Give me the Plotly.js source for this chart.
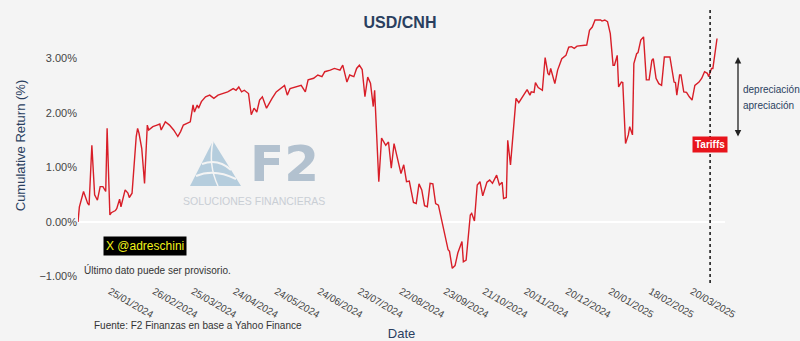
<!DOCTYPE html>
<html>
<head>
<meta charset="utf-8">
<script src="https://cdn.plot.ly/plotly-3.0.1.min.js"></script>
<style>html,body{margin:0;padding:0;background:#f4f4f4;}#chart{width:800px;height:341px;}</style>
</head>
<body>
<div id="chart"></div>
<script>
const dates = [
'2024-01-02','2024-01-03','2024-01-06','2024-01-09','2024-01-10','2024-01-12','2024-01-14','2024-01-16','2024-01-18','2024-01-20',
'2024-01-22','2024-01-23','2024-01-25','2024-01-26','2024-01-29','2024-01-30','2024-02-01','2024-02-02','2024-02-05','2024-02-07',
'2024-02-08','2024-02-10','2024-02-13','2024-02-14','2024-02-15','2024-02-17','2024-02-19','2024-02-21','2024-02-22','2024-02-25',
'2024-02-28','2024-03-01','2024-03-02','2024-03-05','2024-03-08','2024-03-11','2024-03-14','2024-03-16','2024-03-18','2024-03-22',
'2024-03-23','2024-03-25','2024-03-26','2024-03-28','2024-03-29','2024-03-31','2024-04-03','2024-04-06','2024-04-09','2024-04-12',
'2024-04-16','2024-04-19','2024-04-23','2024-04-25','2024-04-27','2024-04-29','2024-05-01','2024-05-04','2024-05-06','2024-05-08',
'2024-05-10','2024-05-12','2024-05-14','2024-05-17','2024-05-21','2024-05-24','2024-05-30','2024-06-01','2024-06-03','2024-06-08',
'2024-06-11','2024-06-14','2024-06-16','2024-06-20','2024-06-23','2024-06-26','2024-06-28','2024-07-02','2024-07-05','2024-07-09',
'2024-07-11','2024-07-14','2024-07-16','2024-07-19','2024-07-21','2024-07-23','2024-07-25','2024-07-27','2024-07-29','2024-07-31',
'2024-08-02','2024-08-03','2024-08-06','2024-08-08','2024-08-11','2024-08-13','2024-08-15','2024-08-17','2024-08-20','2024-08-22',
'2024-08-24','2024-08-26','2024-08-28','2024-08-31','2024-09-02','2024-09-04','2024-09-06','2024-09-08','2024-09-10','2024-09-12',
'2024-09-14','2024-09-16','2024-09-18','2024-09-20','2024-09-23','2024-09-25','2024-09-26','2024-09-28','2024-09-30','2024-10-02',
'2024-10-05','2024-10-06','2024-10-08','2024-10-11','2024-10-12','2024-10-14','2024-10-16','2024-10-18','2024-10-20','2024-10-23',
'2024-10-25','2024-10-27','2024-10-30','2024-11-01','2024-11-03','2024-11-04','2024-11-06','2024-11-07','2024-11-09','2024-11-11',
'2024-11-13','2024-11-15','2024-11-17','2024-11-19','2024-11-21','2024-11-23','2024-11-24','2024-11-26','2024-11-27','2024-11-29',
'2024-12-02','2024-12-04','2024-12-06','2024-12-07','2024-12-08','2024-12-11','2024-12-13','2024-12-16','2024-12-19','2024-12-21',
'2024-12-23','2024-12-25','2024-12-27','2025-01-03','2025-01-05','2025-01-07','2025-01-09','2025-01-13','2025-01-14','2025-01-16',
'2025-01-18','2025-01-20','2025-01-22','2025-01-23','2025-01-25','2025-01-26','2025-01-28','2025-01-29','2025-01-31','2025-02-02',
'2025-02-03','2025-02-05','2025-02-06','2025-02-08','2025-02-09','2025-02-11','2025-02-13','2025-02-15','2025-02-17','2025-02-19',
'2025-02-20','2025-02-22','2025-02-24','2025-02-26','2025-02-28','2025-03-04','2025-03-05','2025-03-07','2025-03-08','2025-03-09',
'2025-03-11','2025-03-12','2025-03-14','2025-03-16','2025-03-18','2025-03-20','2025-03-22','2025-03-25','2025-03-27','2025-03-29',
'2025-03-31','2025-04-01','2025-04-03','2025-04-04','2025-04-07'
];
const cumReturn = [
0.00,0.28,0.56,0.34,0.31,1.41,0.50,0.40,0.65,0.65,
0.56,1.72,0.13,0.17,0.21,0.25,0.42,0.28,0.59,0.53,
0.45,0.53,1.57,1.72,1.63,1.35,0.71,1.78,1.69,1.75,
1.78,1.80,1.69,1.84,1.78,1.69,1.57,1.66,1.78,1.82,
1.84,2.15,2.02,2.15,2.09,2.21,2.30,2.33,2.27,2.33,
2.36,2.39,2.45,2.42,2.48,2.39,2.42,2.36,1.97,2.09,
2.02,2.24,2.30,2.09,2.27,2.39,2.51,2.33,2.45,2.48,
2.51,2.39,2.61,2.64,2.70,2.67,2.76,2.79,2.82,2.79,
2.88,2.57,2.70,2.67,2.82,2.88,2.80,2.30,2.66,2.55,
2.12,2.42,0.74,1.54,1.41,1.47,0.99,1.44,1.08,0.89,
1.05,0.74,0.75,0.36,0.34,0.70,0.59,0.30,0.28,0.71,
0.70,0.34,0.31,0.08,-0.27,-0.51,-0.54,-0.85,-0.80,-0.57,
-0.36,-0.73,-0.70,0.13,0.16,0.02,0.68,0.74,0.48,0.73,
0.77,0.71,0.86,0.68,0.73,0.43,0.45,1.50,1.05,1.63,
2.27,2.19,2.27,2.36,2.43,2.33,2.39,2.38,2.56,2.47,
2.42,3.02,2.73,2.70,2.82,2.54,2.79,3.00,3.06,3.21,
3.22,3.19,3.23,3.25,3.52,3.58,3.71,3.71,3.69,3.71,
3.68,3.46,2.88,2.88,3.06,2.48,2.57,2.56,1.44,1.60,
1.75,1.60,2.91,3.09,3.11,3.34,3.40,2.61,2.61,2.97,
3.00,2.64,2.54,2.51,3.03,3.03,2.88,2.57,2.56,2.33,
2.70,2.70,2.39,2.38,2.30,2.24,2.51,2.57,2.64,2.76,
2.73,2.67,2.82,2.82,3.37
];
const tickDates = ['2024-01-25','2024-02-26','2024-03-25','2024-04-24','2024-05-24','2024-06-24','2024-07-23','2024-08-22','2024-09-23','2024-10-21','2024-11-20','2024-12-20','2025-01-20','2025-02-18','2025-03-20'];
const tickLabels = ['25/01/2024','26/02/2024','25/03/2024','24/04/2024','24/05/2024','24/06/2024','23/07/2024','22/08/2024','23/09/2024','21/10/2024','20/11/2024','20/12/2024','20/01/2025','18/02/2025','20/03/2025'];
const yTicks = [-1, 0, 1, 2, 3];
const yTickLabels = ['\u22121.00%', '0.00%', '1.00%', '2.00%', '3.00%'];
const tariffDate = '2025-04-02';

// plot area in pixels (for decoration placement)
const L = 78, R = 725, T = 8, B = 283;
const px = x => (x - L) / (R - L);
const py = y => (B - y) / (B - T);

const font = 'Arial, "Liberation Sans", sans-serif';
const dark = '#2a3f5f';

const trace = {
  x: dates, y: cumReturn, type: 'scatter', mode: 'lines',
  line: {color: '#d81e28', width: 1.4}, hoverinfo: 'x+y', showlegend: false
};

const logoBlue = '#a9c5d8';
const shapes = [
  {type: 'line', xref: 'x', yref: 'paper', x0: tariffDate, x1: tariffDate, y0: 0, y1: 1,
   line: {color: '#111', width: 1.5, dash: '3px,3px'}},
  // logo triangle
  {type: 'path', xref: 'paper', yref: 'paper', layer: 'below', fillcolor: logoBlue, line: {width: 0}, opacity: 0.85,
   path: `M ${px(213)} ${py(141)} L ${px(190)} ${py(186)} L ${px(241)} ${py(186)} Z`},
  {type: 'path', xref: 'paper', yref: 'paper', layer: 'below', fillcolor: 'rgba(0,0,0,0)', line: {color: '#f4f4f4', width: 2},
   path: `M ${px(196)} ${py(176)} Q ${px(214)} ${py(168)} ${px(236)} ${py(179)}`},
  {type: 'path', xref: 'paper', yref: 'paper', layer: 'below', fillcolor: 'rgba(0,0,0,0)', line: {color: '#f4f4f4', width: 2},
   path: `M ${px(202)} ${py(164)} Q ${px(218)} ${py(158)} ${px(231)} ${py(170)}`},
  {type: 'path', xref: 'paper', yref: 'paper', layer: 'below', fillcolor: 'rgba(0,0,0,0)', line: {color: '#f4f4f4', width: 1.5},
   path: `M ${px(213)} ${py(141)} Q ${px(208)} ${py(165)} ${px(218)} ${py(186)}`}
];

const annotations = [
  {xref: 'paper', yref: 'paper', x: px(284), y: py(164), text: '<b>F2</b>', showarrow: false,
   font: {family: '"DejaVu Sans", sans-serif', size: 50, color: '#b2c1cf'}, xanchor: 'center', yanchor: 'middle'},
  {xref: 'paper', yref: 'paper', x: px(254), y: py(201), text: 'SOLUCIONES FINANCIERAS', showarrow: false,
   font: {family: font, size: 10.5, color: '#c9ced4'}, xanchor: 'center', yanchor: 'middle'},
  {xref: 'paper', yref: 'paper', x: px(145), y: py(246), text: 'X @adreschini', showarrow: false,
   font: {family: font, size: 12, color: '#f2f21a'}, bgcolor: '#000', borderpad: 2, xanchor: 'center', yanchor: 'middle'},
  {xref: 'paper', yref: 'paper', x: px(82), y: py(270), text: 'Último dato puede ser provisorio.', showarrow: false,
   font: {family: font, size: 10, color: '#333'}, xanchor: 'left', yanchor: 'middle'},
  {xref: 'paper', yref: 'paper', x: px(92), y: py(325), text: 'Fuente: F2 Finanzas en base a Yahoo Finance', showarrow: false,
   font: {family: font, size: 10, color: '#333'}, xanchor: 'left', yanchor: 'middle'},
  {xref: 'x', yref: 'paper', x: tariffDate, y: py(144), text: '<b>Tariffs</b>', showarrow: false,
   font: {family: font, size: 10, color: '#fff'}, bgcolor: '#e8141c', borderpad: 2, xanchor: 'center', yanchor: 'middle'},
  {xref: 'paper', yref: 'paper', x: px(738), y: py(57), ax: 0, ay: 81, axref: 'pixel', ayref: 'pixel', text: '',
   showarrow: true, arrowhead: 2, startarrowhead: 2, arrowside: 'end+start', arrowwidth: 1.3, arrowsize: 1, arrowcolor: '#222'},
  {xref: 'paper', yref: 'paper', x: px(741), y: py(89), text: 'depreciación', showarrow: false,
   font: {family: font, size: 10, color: dark}, xanchor: 'left', yanchor: 'middle'},
  {xref: 'paper', yref: 'paper', x: px(741), y: py(106), text: 'apreciación', showarrow: false,
   font: {family: font, size: 10, color: dark}, xanchor: 'left', yanchor: 'middle'}
];

const layout = {
  width: 800, height: 341,
  margin: {l: L, r: 800 - R, t: T, b: 341 - B, pad: 0},
  paper_bgcolor: '#f4f4f4', plot_bgcolor: '#f4f4f4',
  font: {family: font, color: '#444', size: 11},
  title: {text: '<b>USD/CNH</b>', x: 0.5, xanchor: 'center', y: 1 - 22 / 341, yanchor: 'middle', yref: 'container',
          font: {family: font, size: 16, color: dark}},
  xaxis: {type: 'date', range: ['2024-01-02', '2025-04-12 18:00'], tickvals: tickDates, ticktext: tickLabels,
          tickangle: 30, tickfont: {size: 10, color: '#444'}, showgrid: false, zeroline: false, showline: false, ticks: '',
          title: {text: 'Date', font: {size: 13, color: dark}, standoff: 10}},
  yaxis: {range: [-1.12, 3.93], tickvals: yTicks, ticktext: yTickLabels, showgrid: false,
          zeroline: true, zerolinecolor: '#ffffff', zerolinewidth: 2, showline: false, ticks: '',
          tickfont: {size: 11, color: '#444'},
          title: {text: 'Cumulative Return (%)', font: {size: 13, color: dark}, standoff: 10}},
  shapes: shapes, annotations: annotations, showlegend: false
};

Plotly.newPlot('chart', [trace], layout, {displayModeBar: false, staticPlot: true});
</script>
</body>
</html>
